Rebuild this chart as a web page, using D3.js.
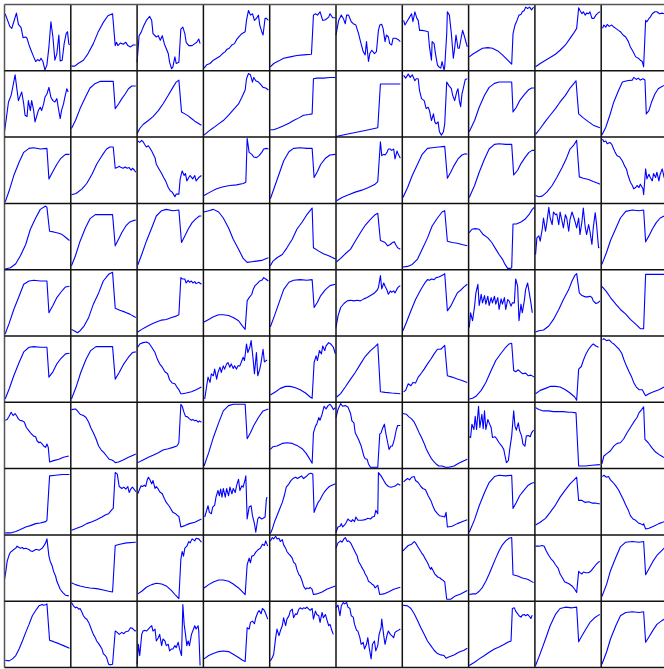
<!DOCTYPE html>
<html>
<head>
<meta charset="utf-8">
<script src="https://cdn.jsdelivr.net/npm/d3@7"></script>
<style>
  html, body { margin: 0; padding: 0; background: #fff; overflow: hidden; }
  svg { display: block; }
</style>
</head>
<body>
<svg id="chart" width="664" height="669"></svg>
<script>
// Each series: [time step (0-100), normalized value (0-100)]
// Row 0
const r0c0 = [[1,86],[4,78],[8,67],[11,64],[14,74],[18,87],[21,70],[25,65],[28,50],[32,51],[34,49],[37,39],[40,31],[44,21],[47,14],[50,17],[53,15],[55,19],[58,14],[61,1],[64,9],[67,36],[70,74],[73,51],[76,16],[79,26],[82,54],[84,15],[87,16],[90,41],[93,56],[95,59],[97,41],[98,39]];
const r0c1 = [[1,7],[6,7],[11,11],[19,16],[26,26],[34,41],[41,58],[49,73],[56,83],[63,86],[67,38],[69,43],[71,38],[75,42],[79,40],[83,43],[86,38],[90,36],[94,39],[98,39]];
const r0c2 = [[0,13],[3,53],[6,58],[10,68],[14,76],[19,82],[22,76],[24,56],[29,51],[32,53],[35,46],[38,53],[41,41],[43,36],[47,26],[49,13],[52,3],[54,6],[57,21],[59,11],[63,13],[66,63],[69,66],[72,56],[74,43],[78,38],[83,38],[87,41],[90,43],[93,48],[95,41]];
const r0c3 = [[1,4],[5,9],[10,11],[15,16],[20,19],[25,22],[29,26],[33,29],[35,32],[39,34],[43,39],[47,41],[50,47],[54,52],[58,56],[63,59],[65,76],[68,91],[71,84],[74,86],[77,76],[80,79],[83,84],[85,69],[88,59],[90,54],[93,79],[95,79],[98,76]];
const r0c4 = [[1,6],[6,11],[14,15],[21,19],[31,21],[41,23],[51,24],[63,25],[66,84],[69,86],[72,84],[76,89],[80,76],[84,77],[89,81],[91,86],[95,80],[99,80]];
const r0c5 = [[0,54],[4,76],[8,84],[11,79],[14,71],[16,84],[19,84],[23,74],[26,71],[30,69],[34,56],[37,44],[41,29],[44,24],[46,44],[49,14],[51,26],[54,31],[58,26],[61,29],[64,61],[66,69],[69,70],[71,64],[74,44],[76,54],[79,51],[81,41],[84,39],[86,49],[90,49],[94,47],[97,44]];
const r0c6 = [[2,76],[4,69],[8,76],[11,81],[14,86],[16,74],[19,89],[22,79],[24,76],[26,61],[30,61],[35,60],[39,59],[41,36],[44,16],[45,44],[48,41],[50,26],[53,9],[55,6],[58,4],[60,14],[63,1],[64,6],[67,56],[68,89],[71,84],[74,56],[77,19],[79,34],[81,54],[84,34],[86,34],[89,51],[91,61],[94,51],[98,36]];
const r0c7 = [[1,21],[6,25],[14,30],[21,34],[29,35],[36,34],[44,30],[51,24],[59,16],[65,10],[67,56],[70,69],[73,76],[76,84],[79,85],[81,89],[84,91],[86,96],[89,94],[92,96],[95,92],[98,96]];
const r0c8 = [[1,6],[8,11],[16,16],[23,20],[31,25],[38,31],[46,39],[53,49],[58,56],[63,64],[66,95],[68,91],[71,86],[73,89],[76,84],[78,87],[81,86],[83,89],[86,79],[89,79],[92,84],[95,87],[98,89]];
const r0c9 = [[2,64],[4,69],[7,66],[9,70],[12,67],[16,69],[19,66],[22,64],[26,61],[29,59],[33,54],[37,51],[41,44],[44,36],[48,29],[52,21],[56,19],[59,16],[62,14],[64,6],[67,76],[69,74],[72,79],[74,81],[77,86],[81,89],[84,89],[88,86],[92,87],[95,86],[99,85]];

// Row 1
const r1c0 = [[0,8],[3,30],[6,53],[10,63],[13,78],[16,94],[19,70],[21,55],[24,63],[26,68],[29,50],[31,33],[34,31],[36,55],[39,40],[41,55],[44,40],[46,23],[49,33],[51,40],[54,45],[56,40],[59,50],[61,60],[64,65],[67,75],[70,60],[73,55],[76,53],[79,58],[81,45],[84,28],[86,40],[89,50],[91,60],[94,73],[96,68]];
const r1c1 = [[1,13],[7,25],[14,43],[22,60],[29,74],[37,81],[44,84],[54,84],[64,84],[67,43],[72,50],[77,58],[82,65],[87,73],[92,77],[98,77]];
const r1c2 = [[0,5],[4,13],[9,19],[17,25],[24,31],[32,40],[39,50],[47,63],[54,75],[59,83],[63,86],[67,38],[72,35],[77,32],[82,28],[87,24],[92,21],[97,18]];
const r1c3 = [[1,3],[8,9],[15,14],[23,20],[30,25],[38,33],[45,41],[53,50],[58,60],[63,71],[65,88],[68,96],[71,94],[74,83],[76,90],[79,85],[83,83],[86,80],[90,75],[94,74],[98,71]];
const r1c4 = [[1,11],[6,11],[14,14],[21,17],[29,21],[36,25],[44,29],[51,33],[59,34],[64,35],[66,88],[71,89],[81,89],[91,90],[99,90]];
const r1c5 = [[0,1],[14,4],[29,7],[44,10],[63,14],[67,80],[74,80],[84,80],[97,80]];
const r1c6 = [[2,93],[5,89],[9,95],[12,90],[15,94],[19,85],[21,88],[24,88],[26,70],[29,58],[33,55],[36,43],[39,45],[41,40],[44,25],[47,35],[49,23],[51,20],[54,23],[56,8],[59,3],[62,8],[64,20],[67,83],[70,78],[74,73],[76,63],[79,55],[82,68],[84,73],[86,55],[88,46],[90,65],[93,78],[95,87],[98,88]];
const r1c7 = [[1,8],[9,25],[16,45],[24,63],[31,75],[39,81],[46,83],[56,83],[65,83],[67,38],[72,45],[77,55],[84,64],[90,71],[95,74],[99,74]];
const r1c8 = [[1,4],[8,13],[16,24],[23,33],[31,43],[38,53],[46,63],[53,74],[58,80],[62,85],[66,35],[73,29],[81,23],[88,18],[96,15],[98,14]];
const r1c9 = [[1,3],[7,15],[13,33],[19,53],[26,70],[32,83],[39,85],[47,86],[49,90],[53,87],[56,89],[59,86],[63,88],[66,86],[68,35],[72,40],[76,53],[81,65],[86,73],[91,76],[95,78],[100,78]];

// Row 2
const r2c0 = [[1,2],[7,19],[14,42],[22,62],[29,77],[37,83],[44,84],[54,82],[64,83],[67,37],[73,48],[79,59],[85,68],[92,74],[98,74]];
const r2c1 = [[1,13],[8,15],[17,22],[24,30],[32,44],[39,59],[47,72],[54,82],[59,85],[64,85],[67,53],[70,54],[73,56],[76,54],[79,53],[82,55],[85,53],[88,54],[91,50],[93,53],[96,50],[98,47]];
const r2c2 = [[1,94],[4,92],[7,95],[9,93],[12,88],[14,85],[17,87],[19,84],[22,79],[24,75],[27,69],[29,59],[33,52],[37,45],[40,39],[43,34],[47,24],[50,19],[53,17],[57,10],[59,14],[63,14],[65,37],[68,49],[71,42],[73,45],[75,34],[78,39],[80,42],[84,37],[87,42],[89,34],[93,39],[97,42]];
const r2c3 = [[1,12],[10,17],[20,22],[30,25],[40,27],[50,28],[60,30],[64,32],[66,98],[69,77],[73,74],[76,70],[80,69],[84,72],[88,77],[91,82],[95,83],[98,82]];
const r2c4 = [[1,7],[7,24],[14,44],[21,64],[29,78],[36,83],[46,84],[56,83],[64,83],[67,39],[72,48],[77,59],[84,68],[91,73],[99,74]];
const r2c5 = [[1,4],[9,9],[19,13],[29,17],[39,20],[49,24],[59,29],[63,33],[67,93],[69,72],[72,74],[74,73],[77,77],[79,82],[82,82],[84,80],[87,82],[89,67],[92,79],[94,74],[97,68]];
const r2c6 = [[1,9],[8,24],[15,42],[23,59],[30,74],[38,83],[45,84],[55,85],[64,86],[68,38],[73,47],[78,57],[84,67],[90,73],[95,75],[98,74]];
const r2c7 = [[1,9],[9,27],[16,47],[24,67],[31,82],[39,89],[46,90],[56,89],[65,89],[68,43],[74,50],[79,60],[85,69],[91,77],[96,80],[99,80]];
const r2c8 = [[1,12],[6,10],[11,11],[18,17],[26,27],[33,39],[41,54],[48,69],[53,82],[58,87],[63,95],[67,40],[73,38],[81,36],[88,33],[96,30],[98,29]];
const r2c9 = [[2,97],[4,93],[7,94],[9,90],[13,92],[16,89],[18,84],[21,77],[24,72],[28,70],[32,64],[35,57],[38,52],[40,44],[42,38],[44,32],[47,27],[49,22],[52,24],[54,27],[57,24],[59,29],[63,22],[64,13],[67,52],[69,37],[72,44],[74,39],[77,34],[79,45],[82,39],[84,47],[87,34],[89,44],[92,52],[95,39],[99,45]];

// Row 3
const r3c0 = [[1,1],[9,3],[17,9],[24,21],[32,38],[39,61],[47,78],[54,91],[62,96],[64,94],[68,58],[74,57],[82,55],[87,53],[92,49],[98,44]];
const r3c1 = [[1,6],[7,21],[14,43],[22,63],[29,77],[37,83],[44,83],[54,83],[63,83],[67,36],[72,46],[77,56],[83,66],[89,72],[94,74],[98,75]];
const r3c2 = [[1,7],[7,23],[14,43],[22,63],[29,81],[37,89],[44,91],[54,89],[63,90],[67,41],[72,51],[77,61],[83,71],[89,77],[94,81],[97,81]];
const r3c3 = [[1,87],[8,89],[15,91],[23,87],[30,78],[38,63],[45,46],[53,31],[60,17],[66,11],[73,12],[80,13],[88,14],[95,17],[98,18]];
const r3c4 = [[1,6],[5,13],[11,18],[19,23],[26,33],[34,46],[41,61],[49,72],[56,83],[64,93],[66,33],[74,28],[81,24],[89,21],[99,16]];
const r3c5 = [[1,12],[7,17],[14,24],[22,31],[29,43],[37,56],[44,67],[52,76],[59,83],[63,85],[67,44],[70,43],[74,41],[78,36],[82,38],[85,41],[88,42],[90,38],[93,33],[97,31]];
const r3c6 = [[1,4],[8,5],[15,8],[23,16],[30,31],[38,48],[45,66],[53,78],[60,87],[64,89],[68,43],[75,41],[83,40],[90,38],[98,36]];
const r3c7 = [[1,56],[5,61],[10,62],[16,61],[22,53],[29,48],[35,41],[41,31],[46,23],[51,16],[55,8],[59,2],[63,2],[65,3],[67,69],[72,69],[79,72],[85,76],[91,83],[96,91],[99,94]];
const r3c8 = [[1,23],[3,48],[6,51],[8,43],[11,61],[13,78],[16,58],[18,71],[21,94],[23,78],[26,68],[28,87],[31,83],[33,84],[36,68],[38,87],[41,73],[43,63],[46,83],[48,78],[51,58],[53,76],[56,87],[58,81],[61,71],[63,63],[66,78],[68,53],[71,73],[73,93],[76,63],[78,53],[81,68],[83,58],[86,38],[88,63],[91,86],[93,68],[96,33],[97,34]];
const r3c9 = [[1,8],[8,26],[14,44],[22,62],[29,78],[37,88],[47,90],[57,89],[64,90],[67,42],[72,51],[77,61],[83,71],[89,78],[95,81],[100,82]];

// Row 4
const r4c0 = [[1,3],[7,19],[14,40],[22,60],[29,78],[37,83],[44,84],[54,83],[64,83],[67,35],[73,46],[79,58],[85,66],[92,74],[98,75]];
const r4c1 = [[1,10],[5,8],[10,5],[14,8],[20,15],[27,28],[34,48],[42,65],[49,83],[57,93],[63,96],[67,42],[74,39],[82,36],[89,33],[98,28]];
const r4c2 = [[1,6],[7,10],[14,14],[22,18],[29,21],[37,24],[44,25],[52,28],[59,30],[63,32],[66,88],[68,86],[72,86],[74,80],[77,84],[79,81],[82,83],[84,80],[87,82],[89,79],[93,81],[97,78]];
const r4c3 = [[1,21],[8,25],[15,29],[23,32],[30,32],[38,31],[45,28],[53,23],[59,15],[63,10],[66,53],[69,58],[73,63],[75,70],[78,76],[80,78],[83,81],[85,83],[88,84],[91,88],[94,86],[98,83]];
const r4c4 = [[1,14],[7,30],[14,50],[21,70],[29,81],[36,84],[46,85],[56,84],[64,85],[67,43],[72,51],[77,61],[84,70],[91,76],[99,78]];
const r4c5 = [[0,13],[3,30],[7,43],[12,49],[17,53],[22,54],[27,53],[32,54],[37,53],[42,56],[47,58],[52,61],[57,64],[62,69],[64,73],[67,91],[69,71],[72,80],[74,75],[77,69],[79,63],[82,68],[84,66],[87,68],[89,65],[92,71],[94,74],[97,76]];
const r4c6 = [[1,8],[6,20],[13,38],[20,55],[28,70],[34,80],[38,85],[41,84],[44,86],[48,85],[51,88],[55,89],[59,91],[63,93],[64,94],[68,38],[73,45],[78,55],[83,65],[88,69],[93,74],[98,78]];
const r4c7 = [[1,13],[3,35],[6,23],[9,45],[11,65],[14,78],[16,46],[19,63],[21,50],[24,61],[26,48],[29,60],[31,46],[34,58],[36,50],[39,60],[41,48],[44,58],[46,40],[49,56],[51,48],[54,58],[56,40],[59,55],[61,53],[64,45],[66,50],[69,50],[71,86],[74,75],[76,23],[79,48],[81,35],[84,53],[86,70],[89,80],[91,68],[94,50],[96,35]];
const r4c8 = [[1,6],[6,8],[13,9],[21,15],[28,25],[36,40],[43,55],[51,70],[56,83],[60,91],[63,94],[67,65],[71,61],[76,59],[80,59],[83,60],[86,58],[88,53],[92,49],[95,50],[98,53]];
const r4c9 = [[1,75],[7,68],[14,58],[22,48],[29,40],[37,33],[44,25],[52,18],[59,11],[64,11],[67,93],[74,93],[84,93],[95,93],[100,93]];

// Row 5
const r5c0 = [[1,5],[7,20],[14,40],[22,60],[29,76],[37,83],[44,84],[54,83],[64,83],[67,38],[73,46],[79,58],[85,66],[92,73],[98,74]];
const r5c1 = [[1,5],[8,23],[15,45],[23,65],[30,78],[38,84],[44,84],[54,84],[63,84],[67,35],[73,45],[80,58],[87,68],[93,75],[98,76]];
const r5c2 = [[1,83],[4,88],[9,90],[14,91],[18,89],[22,83],[27,75],[31,64],[34,58],[38,53],[42,46],[46,43],[49,34],[53,29],[57,28],[60,23],[63,19],[66,13],[69,13],[74,14],[82,16],[89,19],[97,23]];
const r5c3 = [[2,5],[5,25],[7,38],[10,30],[12,43],[15,40],[17,50],[20,35],[22,45],[25,53],[27,45],[30,55],[32,50],[35,58],[37,60],[40,53],[42,58],[45,51],[47,55],[50,50],[52,55],[55,55],[57,60],[60,68],[62,63],[65,88],[67,75],[70,83],[72,93],[75,65],[77,43],[80,75],[82,40],[85,50],[87,60],[90,80],[92,61],[95,63],[96,64]];
const r5c4 = [[1,11],[9,16],[16,21],[24,24],[31,24],[39,22],[46,19],[54,14],[61,8],[64,6],[67,60],[70,70],[72,63],[75,78],[78,73],[80,85],[83,78],[85,85],[89,90],[92,88],[96,83],[99,73]];
const r5c5 = [[1,8],[7,13],[14,23],[22,35],[29,45],[37,58],[44,69],[52,78],[59,84],[63,88],[67,16],[74,15],[84,14],[97,13]];
const r5c6 = [[2,16],[5,18],[9,28],[13,25],[16,30],[20,29],[24,38],[28,43],[33,50],[38,58],[43,65],[48,73],[53,80],[58,80],[61,83],[64,86],[68,40],[75,38],[83,35],[90,33],[98,30]];
const r5c7 = [[1,5],[6,6],[11,9],[19,18],[26,30],[34,48],[41,63],[49,74],[56,83],[61,88],[65,89],[68,48],[71,46],[75,49],[79,45],[82,43],[86,44],[90,40],[94,41],[99,38]];
const r5c8 = [[1,13],[8,18],[16,21],[23,24],[31,24],[38,23],[46,19],[53,14],[60,8],[63,3],[66,50],[70,54],[73,63],[77,73],[81,80],[85,85],[88,88],[92,85],[96,83]];
const r5c9 = [[2,94],[4,96],[8,93],[12,94],[16,90],[19,88],[23,84],[27,80],[31,74],[34,65],[38,55],[42,46],[46,38],[49,30],[53,23],[57,19],[62,19],[64,15],[67,10],[72,13],[79,16],[87,19],[95,23],[100,25]];

// Row 6
const r6c0 = [[1,73],[4,74],[7,79],[10,85],[13,80],[16,83],[18,80],[21,75],[23,73],[27,72],[30,70],[33,62],[37,57],[40,53],[44,49],[47,48],[49,42],[52,39],[54,40],[57,37],[59,34],[62,32],[64,37],[66,32],[68,10],[74,12],[82,14],[89,17],[97,19]];
const r6c1 = [[1,89],[7,90],[10,87],[14,82],[19,80],[23,77],[27,70],[30,62],[34,54],[38,45],[42,34],[46,28],[50,24],[54,19],[58,14],[62,13],[64,12],[67,9],[72,10],[79,13],[87,17],[94,20],[98,22]];
const r6c2 = [[1,9],[9,13],[17,17],[24,20],[32,24],[39,28],[47,30],[54,32],[60,34],[63,39],[66,97],[68,94],[71,84],[73,79],[76,78],[79,75],[82,73],[84,74],[87,72],[89,73],[92,70],[94,72],[97,70]];
const r6c3 = [[1,4],[8,24],[15,47],[23,69],[30,87],[38,95],[45,97],[55,97],[63,97],[66,45],[71,54],[76,65],[83,77],[90,87],[98,90]];
const r6c4 = [[1,29],[5,33],[11,34],[19,38],[26,39],[34,38],[41,35],[49,30],[55,23],[60,15],[64,8],[66,54],[69,64],[71,67],[74,77],[76,73],[79,82],[82,94],[85,90],[88,95],[91,97],[94,93],[96,89],[99,92]];
const r6c5 = [[0,77],[3,89],[7,98],[10,94],[14,95],[18,93],[22,83],[24,72],[27,69],[29,54],[32,48],[34,44],[38,34],[42,19],[44,15],[47,14],[49,7],[52,2],[55,2],[62,2],[63,2],[66,52],[68,54],[70,60],[73,67],[75,54],[78,39],[80,29],[83,34],[85,34],[88,44],[91,59],[93,65],[97,65]];
const r6c6 = [[1,83],[6,82],[10,78],[14,75],[18,70],[21,64],[25,55],[29,47],[33,38],[36,30],[40,22],[44,15],[48,10],[51,7],[55,4],[60,4],[65,2],[70,2],[78,4],[85,8],[93,12],[98,14]];
const r6c7 = [[1,48],[3,47],[5,67],[8,59],[10,79],[12,59],[15,94],[17,62],[20,82],[22,60],[24,87],[26,59],[29,74],[31,69],[34,62],[36,47],[40,48],[43,44],[46,39],[50,34],[53,29],[55,19],[57,9],[60,12],[62,29],[65,49],[66,62],[68,87],[70,64],[72,58],[75,69],[77,57],[80,49],[82,37],[85,34],[87,49],[90,50],[93,48],[95,54],[98,58]];
const r6c8 = [[1,92],[6,89],[13,87],[21,87],[28,86],[36,86],[43,86],[51,85],[56,85],[62,84],[66,4],[76,4],[86,5],[98,6]];
const r6c9 = [[1,7],[4,19],[9,23],[14,27],[19,34],[24,38],[29,39],[34,45],[39,54],[44,62],[49,70],[54,77],[57,84],[61,89],[64,93],[66,44],[71,39],[76,32],[82,25],[89,20],[94,17],[100,15]];

// Row 7
const r7c0 = [[1,3],[9,3],[17,5],[24,8],[32,12],[39,14],[47,17],[54,18],[62,20],[64,22],[68,89],[77,90],[87,91],[98,91]];
const r7c1 = [[1,7],[9,10],[17,13],[24,17],[32,20],[39,23],[47,27],[52,30],[57,32],[62,38],[64,40],[67,94],[70,92],[73,73],[77,70],[80,72],[83,69],[86,73],[88,64],[91,70],[93,72],[97,67],[98,65]];
const r7c2 = [[1,62],[3,67],[6,74],[8,73],[11,75],[13,73],[15,82],[17,87],[19,84],[22,77],[24,82],[27,70],[29,73],[32,69],[34,65],[38,62],[41,55],[44,49],[48,44],[51,39],[54,34],[58,32],[61,29],[63,28],[66,12],[72,14],[79,17],[87,19],[97,24]];
const r7c3 = [[2,27],[4,34],[7,44],[9,34],[12,32],[14,42],[17,45],[19,57],[22,67],[24,59],[26,69],[28,57],[30,70],[33,57],[35,70],[38,59],[40,72],[43,62],[45,70],[48,64],[50,74],[53,84],[55,67],[58,74],[60,72],[63,84],[64,89],[66,24],[69,42],[72,44],[74,29],[77,17],[79,4],[82,24],[84,27],[88,24],[90,25],[93,27],[95,54],[96,57]];
const r7c4 = [[1,2],[4,9],[7,19],[11,29],[15,39],[19,49],[22,59],[25,72],[29,77],[32,82],[35,85],[39,87],[42,85],[45,87],[48,89],[51,85],[55,88],[59,92],[62,93],[65,92],[67,34],[70,42],[73,49],[76,53],[79,59],[82,64],[86,69],[90,73],[94,75],[99,77]];
const r7c5 = [[0,4],[3,12],[6,13],[8,17],[10,12],[13,15],[15,18],[18,24],[20,22],[23,20],[25,23],[28,20],[30,27],[33,22],[35,22],[39,22],[44,23],[48,25],[52,24],[55,27],[58,28],[60,37],[63,32],[64,94],[68,89],[72,82],[75,77],[79,73],[83,72],[87,73],[90,74],[93,77],[97,75]];
const r7c6 = [[2,80],[4,82],[8,85],[11,83],[14,87],[18,88],[20,82],[24,79],[28,73],[31,70],[35,68],[39,59],[43,52],[46,44],[49,37],[53,32],[56,29],[60,28],[64,27],[66,34],[68,12],[75,13],[83,17],[90,20],[98,23]];
const r7c7 = [[1,4],[9,23],[16,44],[24,64],[31,79],[39,88],[46,90],[56,89],[65,90],[67,40],[72,49],[77,59],[84,68],[90,75],[95,78],[99,79]];
const r7c8 = [[1,15],[8,19],[16,25],[23,34],[31,45],[38,57],[46,68],[53,77],[58,82],[63,87],[66,52],[71,52],[76,49],[81,50],[86,48],[91,48],[96,47],[98,47]];
const r7c9 = [[2,88],[4,90],[8,87],[11,88],[14,83],[18,79],[22,74],[26,68],[29,62],[33,54],[37,45],[41,37],[44,29],[48,24],[52,22],[56,18],[59,17],[63,15],[64,17],[67,9],[72,10],[79,13],[87,17],[95,20],[100,22]];

// Row 8
const r8c0 = [[0,33],[2,45],[4,60],[7,70],[9,74],[12,76],[14,78],[17,80],[19,83],[22,81],[24,80],[27,81],[29,79],[32,80],[34,79],[37,78],[39,76],[42,75],[44,76],[47,78],[49,78],[52,77],[54,78],[57,80],[59,83],[62,88],[64,94],[67,68],[69,60],[72,53],[74,45],[77,38],[79,30],[82,23],[84,18],[88,13],[92,9],[97,8]];
const r8c1 = [[1,28],[7,25],[14,23],[22,21],[29,20],[39,19],[49,17],[57,15],[63,14],[67,84],[74,86],[84,88],[98,89]];
const r8c2 = [[1,11],[7,15],[14,21],[22,25],[29,27],[37,26],[44,23],[52,16],[58,9],[63,4],[66,63],[68,75],[70,68],[72,80],[75,83],[78,90],[80,88],[83,94],[87,91],[89,95],[93,94],[97,89]];
const r8c3 = [[1,20],[8,25],[15,29],[23,32],[30,32],[38,30],[45,26],[53,20],[59,14],[63,10],[66,55],[69,65],[71,58],[73,68],[76,69],[79,74],[83,78],[86,80],[89,86],[92,84],[94,91],[97,83]];
const r8c4 = [[1,91],[4,96],[6,94],[9,98],[11,94],[14,95],[16,90],[19,93],[21,85],[24,80],[26,75],[29,71],[31,69],[34,65],[36,59],[39,56],[41,48],[44,40],[46,38],[49,30],[51,23],[54,18],[56,20],[59,19],[61,21],[64,18],[66,10],[71,11],[79,14],[86,18],[99,23]];
const r8c5 = [[0,80],[3,88],[7,91],[9,89],[12,94],[14,96],[17,90],[19,91],[22,88],[24,84],[27,78],[29,74],[32,68],[34,60],[37,55],[39,51],[42,46],[44,41],[47,36],[49,30],[52,28],[54,26],[57,24],[59,20],[62,23],[63,24],[66,10],[72,11],[79,14],[87,18],[97,21]];
const r8c6 = [[1,76],[5,80],[9,84],[14,86],[18,90],[20,88],[23,83],[26,78],[29,73],[32,69],[34,65],[37,60],[39,56],[41,51],[43,48],[44,51],[47,45],[49,41],[52,38],[54,36],[57,35],[59,33],[62,31],[64,29],[67,3],[73,3],[80,8],[88,11],[98,16]];
const r8c7 = [[1,10],[6,11],[11,11],[16,15],[21,21],[26,30],[31,41],[36,53],[41,65],[46,76],[51,85],[56,91],[61,95],[65,96],[67,40],[74,38],[81,35],[89,33],[98,28]];
const r8c8 = [[1,83],[6,83],[11,84],[14,83],[17,76],[21,69],[25,63],[28,60],[31,55],[35,50],[38,41],[41,36],[45,29],[48,28],[52,26],[56,23],[60,18],[63,13],[66,45],[68,43],[71,41],[73,44],[77,43],[81,43],[85,46],[88,50],[92,55],[96,59],[98,60]];
const r8c9 = [[1,7],[8,25],[14,46],[22,66],[29,82],[37,89],[47,90],[57,89],[64,90],[67,40],[72,49],[78,60],[84,69],[92,77],[95,80],[100,82]];

// Row 9
const r9c0 = [[1,11],[7,10],[12,13],[17,18],[22,28],[27,40],[32,53],[37,65],[42,78],[47,86],[52,93],[57,95],[59,94],[63,95],[64,96],[68,41],[74,39],[82,36],[89,33],[98,29]];
const r9c1 = [[1,98],[4,93],[7,90],[9,91],[12,88],[14,89],[17,83],[19,78],[22,74],[24,73],[27,68],[29,63],[32,55],[34,50],[37,45],[39,40],[42,36],[44,33],[47,28],[49,21],[52,18],[54,15],[57,5],[59,4],[63,5],[67,55],[70,53],[73,50],[77,53],[80,51],[83,54],[87,55],[90,60],[93,59],[97,55],[98,56]];
const r9c2 = [[0,5],[2,35],[4,18],[7,50],[9,55],[12,56],[14,55],[17,58],[19,60],[22,63],[24,55],[27,58],[29,40],[32,45],[34,50],[37,33],[39,43],[42,40],[44,33],[47,35],[49,25],[52,28],[54,28],[57,33],[59,30],[62,38],[64,28],[67,18],[68,55],[69,95],[71,65],[73,50],[75,33],[77,40],[79,33],[82,50],[84,55],[87,63],[89,58],[92,63],[93,55],[95,3]];
const r9c3 = [[1,13],[8,18],[15,21],[23,24],[30,25],[38,24],[45,20],[53,15],[59,11],[63,9],[66,60],[69,58],[71,68],[74,70],[77,66],[79,75],[82,83],[84,86],[87,81],[89,89],[92,86],[94,81],[97,73]];
const r9c4 = [[1,10],[4,15],[6,20],[9,45],[11,58],[14,48],[16,55],[19,63],[21,75],[24,63],[26,73],[29,78],[31,85],[34,88],[36,75],[39,81],[41,80],[44,88],[46,90],[49,88],[51,90],[54,89],[56,91],[59,88],[61,86],[64,89],[66,73],[69,85],[71,80],[74,78],[76,68],[79,83],[81,75],[84,80],[86,73],[89,63],[91,65],[94,55],[96,50]];
const r9c5 = [[0,90],[3,94],[6,78],[8,93],[11,98],[13,96],[16,98],[18,91],[21,89],[23,78],[26,76],[28,65],[31,56],[33,55],[36,45],[38,35],[41,38],[43,28],[46,35],[48,45],[50,30],[53,13],[55,35],[58,40],[60,25],[63,33],[65,50],[68,60],[69,73],[72,48],[74,35],[77,49],[79,55],[82,50],[84,48],[87,45],[89,53],[92,55],[94,56],[97,58]];
const r9c6 = [[1,94],[8,93],[13,89],[18,81],[23,71],[28,60],[33,50],[38,40],[43,33],[48,26],[53,21],[58,19],[63,18],[66,14],[70,16],[78,19],[85,23],[93,26],[98,29]];
const r9c7 = [[1,3],[9,8],[16,13],[24,18],[31,23],[39,28],[46,31],[54,35],[59,38],[64,40],[66,89],[69,90],[71,85],[74,81],[76,78],[79,76],[81,79],[84,80],[86,78],[89,80],[91,78],[94,74],[96,79]];
const r9c8 = [[1,3],[8,21],[16,43],[23,63],[31,80],[38,89],[46,91],[56,90],[63,91],[66,39],[71,48],[77,58],[83,68],[90,75],[96,79],[98,80]];
const r9c9 = [[1,5],[8,23],[14,43],[22,63],[29,78],[37,83],[47,84],[57,83],[64,84],[67,38],[72,46],[78,56],[84,65],[92,71],[95,73],[100,74]];

const panels = [
  [r0c0, r0c1, r0c2, r0c3, r0c4, r0c5, r0c6, r0c7, r0c8, r0c9],
  [r1c0, r1c1, r1c2, r1c3, r1c4, r1c5, r1c6, r1c7, r1c8, r1c9],
  [r2c0, r2c1, r2c2, r2c3, r2c4, r2c5, r2c6, r2c7, r2c8, r2c9],
  [r3c0, r3c1, r3c2, r3c3, r3c4, r3c5, r3c6, r3c7, r3c8, r3c9],
  [r4c0, r4c1, r4c2, r4c3, r4c4, r4c5, r4c6, r4c7, r4c8, r4c9],
  [r5c0, r5c1, r5c2, r5c3, r5c4, r5c5, r5c6, r5c7, r5c8, r5c9],
  [r6c0, r6c1, r6c2, r6c3, r6c4, r6c5, r6c6, r6c7, r6c8, r6c9],
  [r7c0, r7c1, r7c2, r7c3, r7c4, r7c5, r7c6, r7c7, r7c8, r7c9],
  [r8c0, r8c1, r8c2, r8c3, r8c4, r8c5, r8c6, r8c7, r8c8, r8c9],
  [r9c0, r9c1, r9c2, r9c3, r9c4, r9c5, r9c6, r9c7, r9c8, r9c9]
];

const svg = d3.select("#chart");
const nRows = panels.length, nCols = panels[0].length;

// Grid placement of the small multiples
const gx = d3.scaleLinear().domain([0, nCols]).range([4.5, 667.5]);
const gy = d3.scaleLinear().domain([0, nRows]).range([4.5, 667.5]);

const linesG = svg.append("g");
panels.forEach((row, r) => {
  row.forEach((series, c) => {
    const x = d3.scaleLinear().domain([0, 100]).range([gx(c), gx(c + 1)]);
    const y = d3.scaleLinear().domain([0, 100]).range([gy(r + 1), gy(r)]);
    const line = d3.line().x(d => x(d[0])).y(d => y(d[1]));
    linesG.append("path")
      .datum(series)
      .attr("d", line)
      .attr("fill", "none")
      .attr("stroke", "#0000ff")
      .attr("stroke-width", 1.1)
      .attr("stroke-linejoin", "round");
  });
});

// Panel frames
const frame = svg.append("g");
d3.range(nCols + 1).forEach(i => {
  frame.append("line")
    .attr("x1", gx(i)).attr("x2", gx(i))
    .attr("y1", gy(0)).attr("y2", gy(nRows))
    .attr("stroke", i === 0 ? "#555" : "#111")
    .attr("stroke-width", 1.5);
});
d3.range(nRows + 1).forEach(j => {
  frame.append("line")
    .attr("y1", gy(j)).attr("y2", gy(j))
    .attr("x1", gx(0)).attr("x2", gx(nCols))
    .attr("stroke", j === 0 ? "#555" : "#111")
    .attr("stroke-width", 1.5);
});
</script>
</body>
</html>
